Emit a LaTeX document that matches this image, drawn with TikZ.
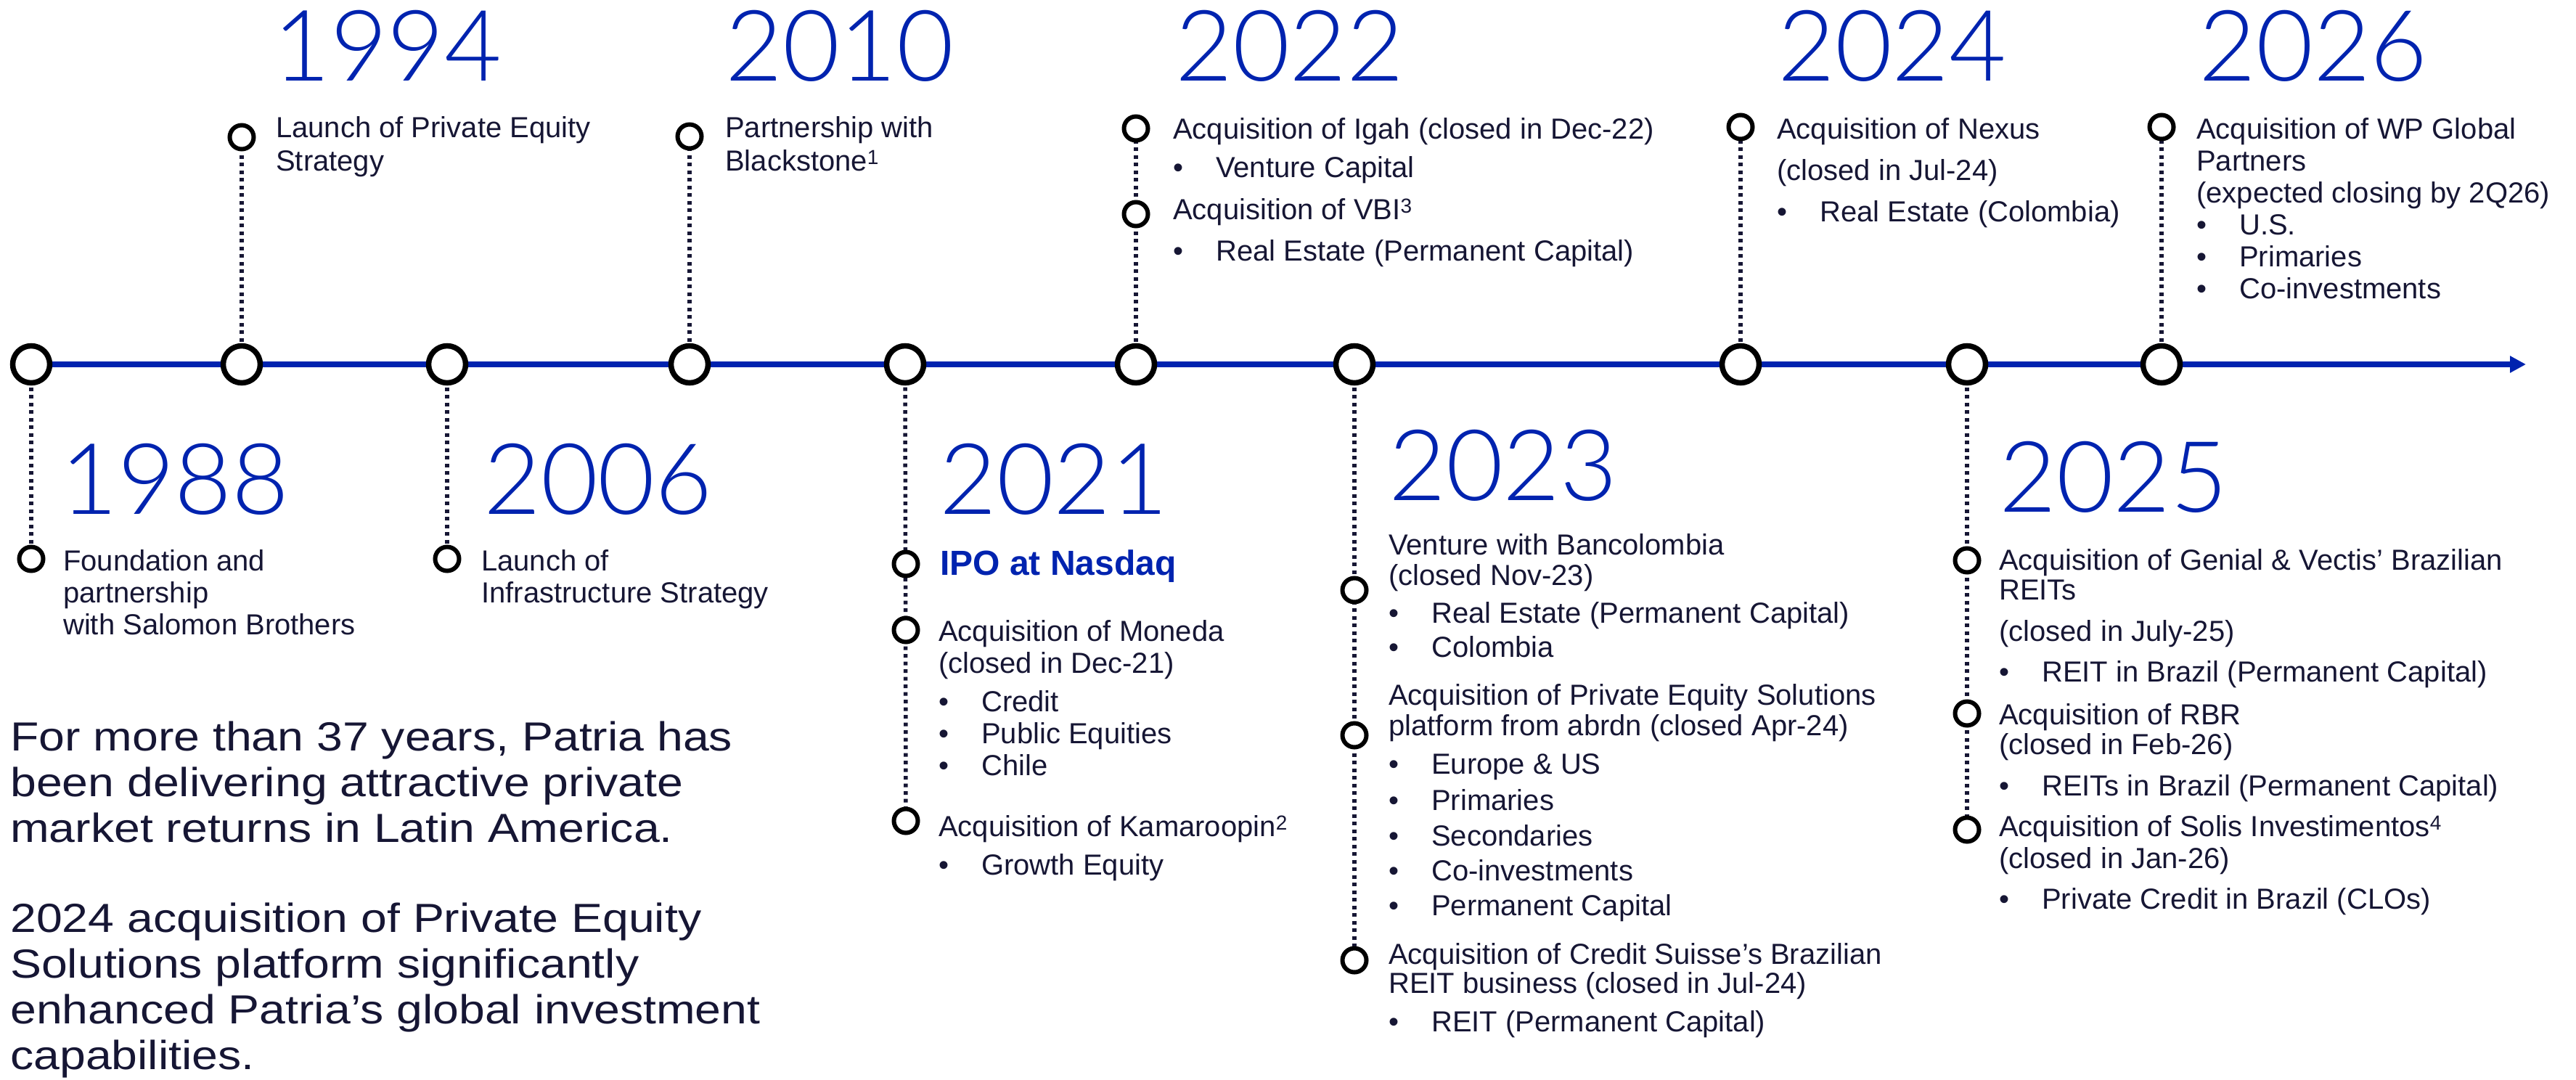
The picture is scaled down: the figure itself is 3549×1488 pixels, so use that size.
\documentclass[tikz,border=0pt]{standalone}
\usepackage{fontspec}
\setmainfont{Liberation Sans}
\newfontfamily\widefont{Liberation Sans}[FakeStretch=1.15]
\newfontfamily\yearfont{Lato}[UprightFont={* Light}]
\usetikzlibrary{arrows.meta,backgrounds}

\definecolor{brand}{RGB}{0,35,175}
\definecolor{ink}{RGB}{22,22,52}
\newcommand{\itm}{\makebox[59pt][l]{\textbullet}}

\begin{document}
\begin{tikzpicture}[x=1pt,y=-1pt]
        \tikzstyle{mainpt} = [circle, draw=black, line width=7.5pt, fill=white, minimum size=51pt, inner sep=0pt];
        \tikzstyle{subpt} = [circle, draw=black, line width=6pt, fill=white, minimum size=33pt, inner sep=0pt];
        \tikzstyle{year} = [anchor=base west, inner sep=0pt, text=brand, font=\yearfont\fontsize{136}{136}\selectfont];
        \tikzstyle{txt} = [anchor=north west, inner sep=0pt, align=left, text=ink, font=\fontsize{40}{44}\selectfont];
        \tikzstyle{axis} = [draw=brand, line width=8.5pt];
        \tikzstyle{dots} = [draw=ink, line width=5.5pt, dash pattern=on 5pt off 5.5pt];

        \useasboundingbox (0,0) rectangle (3549,1488);

        % points on the time line
        \node(m1988)[mainpt] at (43,502){};
        \node(m1994)[mainpt] at (333,502){};
        \node(m2006)[mainpt] at (616,502){};
        \node(m2010)[mainpt] at (950,502){};
        \node(m2021)[mainpt] at (1247,502){};
        \node(m2022)[mainpt] at (1565,502){};
        \node(m2023)[mainpt] at (1866,502){};
        \node(m2024)[mainpt] at (2398,502){};
        \node(m2025)[mainpt] at (2710,502){};
        \node(m2026)[mainpt] at (2978,502){};
        \coordinate(tip) at (3480,502);

        % events above the line
        \node(s1994)[subpt] at (333,189){};
        \node(s2010)[subpt] at (950,188){};
        \node(s2022a)[subpt] at (1565,177){};
        \node(s2022b)[subpt] at (1565,295){};
        \node(s2024)[subpt] at (2398,175){};
        \node(s2026)[subpt] at (2978,175){};

        % events below the line
        \node(s1988)[subpt] at (43,770){};
        \node(s2006)[subpt] at (616,770){};
        \node(s2021a)[subpt] at (1248,777){};
        \node(s2021b)[subpt] at (1248,868){};
        \node(s2021c)[subpt] at (1248,1131){};
        \node(s2023a)[subpt] at (1866,813){};
        \node(s2023b)[subpt] at (1866,1013){};
        \node(s2023c)[subpt] at (1866,1323){};
        \node(s2025a)[subpt] at (2710,772){};
        \node(s2025b)[subpt] at (2710,983){};
        \node(s2025c)[subpt] at (2710,1143){};

        \begin{scope}[on background layer]
            \draw [axis, -{Triangle[length=22pt, width=22pt]}] (m1988.center) -- (tip);
            \draw [dots] (m1994.center) -- (s1994.center);
            \draw [dots] (m2010.center) -- (s2010.center);
            \draw [dots] (m2022.center) -- (s2022a.center);
            \draw [dots] (m2024.center) -- (s2024.center);
            \draw [dots] (m2026.center) -- (s2026.center);
            \draw [dots] (m1988.center) -- (s1988.center);
            \draw [dots] (m2006.center) -- (s2006.center);
            \draw [dots] (m2021.center) -- (s2021c.center);
            \draw [dots] (m2023.center) -- (s2023c.center);
            \draw [dots] (m2025.center) -- (s2025c.center);
        \end{scope}

        % years
        \node(y1994)[year] at (376,111){1994};
        \node(y2010)[year] at (999,111){2010};
        \node(y2022)[year] at (1619,111){2022};
        \node(y2024)[year] at (2449,111){2024};
        \node(y2026)[year] at (3029,111){2026};
        \node(y1988)[year] at (83,708){1988};
        \node(y2006)[year] at (666,708){2006};
        \node(y2021)[year] at (1294,708){2021};
        \node(y2023)[year] at (1913,689){2023};
        \node(y2025)[year] at (2754,705){2025};

        % descriptions
        \node(t1994)[txt] at (380,160){Launch of Private Equity\\[2pt]Strategy};
        \node(t2010)[txt] at (999,160){Partnership with\\[2pt]Blackstone\textsuperscript{1}};
        \node(t2022a)[txt] at (1616,162){Acquisition of Igah (closed in Dec-22)\\[9pt]\itm Venture Capital};
        \node(t2022b)[txt] at (1616,273){Acquisition of VBI\textsuperscript{3}\\[13pt]\itm Real Estate (Permanent Capital)};
        \node(t2024)[txt] at (2448,162){Acquisition of Nexus\\[13pt](closed in Jul-24)\\[13pt]\itm Real Estate (Colombia)};
        \node(t2026)[txt] at (3026,162){Acquisition of WP Global\\Partners\\(expected closing by 2Q26)\\\itm U.S.\\\itm Primaries\\\itm Co-investments};
        \node(t1988)[txt] at (87,757){Foundation and\\partnership\\with Salomon Brothers};
        \node(t2006)[txt] at (663,757){Launch of\\Infrastructure Strategy};
        \node(ipo)[txt, text=brand, font=\bfseries\fontsize{48}{52}\selectfont] at (1295,758){IPO at Nasdaq};
        \node(t2021a)[txt] at (1293,854){Acquisition of Moneda\\(closed in Dec-21)\\[9pt]\itm Credit\\\itm Public Equities\\\itm Chile};
        \node(t2021b)[txt] at (1293,1123){Acquisition of Kamaroopin\textsuperscript{2}\\[9pt]\itm Growth Equity};
        \node(t2023a)[txt] at (1913,735){Venture with Bancolombia\\[-2pt](closed Nov-23)\\[8pt]\itm Real Estate (Permanent Capital)\\[3pt]\itm Colombia};
        \node(t2023b)[txt] at (1913,942){Acquisition of Private Equity Solutions\\[-2pt]platform from abrdn (closed Apr-24)\\[9pt]\itm Europe \& US\\[6pt]\itm Primaries\\[5pt]\itm Secondaries\\[4pt]\itm Co-investments\\[4pt]\itm Permanent Capital};
        \node(t2023c)[txt] at (1913,1299){Acquisition of Credit Suisse’s Brazilian\\[-4pt]REIT business (closed in Jul-24)\\[9pt]\itm REIT (Permanent Capital)};
        \node(t2025a)[txt] at (2754,756){Acquisition of Genial \& Vectis’ Brazilian\\[-3pt]REITs\\[13pt](closed in July-25)\\[12pt]\itm REIT in Brazil (Permanent Capital)};
        \node(t2025b)[txt] at (2754,969){Acquisition of RBR\\[-3pt](closed in Feb-26)\\[13pt]\itm REITs in Brazil (Permanent Capital)};
        \node(t2025c)[txt] at (2754,1123){Acquisition of Solis Investimentos\textsuperscript{4}\\(closed in Jan-26)\\[12pt]\itm Private Credit in Brazil (CLOs)};

        % summary text
        \node(blurb)[txt, font=\widefont\fontsize{56}{63}\selectfont] at (14,994){For more than 37 years, Patria has\\been delivering attractive private\\market returns in Latin America.\\[61pt]2024 acquisition of Private Equity\\Solutions platform significantly\\enhanced Patria’s global investment\\capabilities.};
\end{tikzpicture}
\end{document}
